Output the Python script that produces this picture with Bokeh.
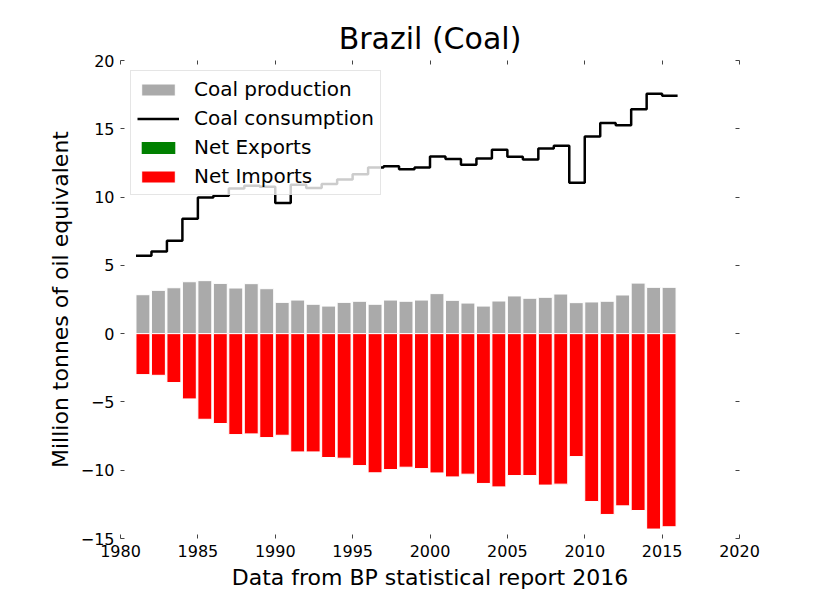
from bokeh.plotting import figure
from bokeh.models import (ColumnDataSource, Legend, LegendItem, LinearAxis,
                          FixedTicker, Range1d)
from bokeh.embed import file_html
from bokeh.resources import INLINE

# ---- data (Million tonnes of oil equivalent) ----
years = list(range(1981, 2016))
production = [2.85, 3.17, 3.36, 3.80, 3.88, 3.68, 3.34, 3.66, 3.29, 2.29,
              2.46, 2.15, 2.02, 2.29, 2.37, 2.15, 2.46, 2.37, 2.46, 2.93,
              2.44, 2.24, 2.02, 2.39, 2.76, 2.59, 2.66, 2.90, 2.27, 2.32,
              2.37, 2.83, 3.70, 3.39, 3.39]
consumption = [5.71, 6.02, 6.80, 8.41, 9.97, 10.10, 10.63, 10.83, 10.75, 9.56,
               10.90, 10.66, 10.95, 11.29, 11.68, 12.17, 12.26, 12.04, 12.17, 12.97,
               12.78, 12.36, 12.83, 13.46, 12.95, 12.75, 13.56, 13.75, 11.05, 14.43,
               15.43, 15.26, 16.43, 17.56, 17.41]
net_imports = [-3.00, -3.05, -3.58, -4.78, -6.27, -6.58, -7.39, -7.34, -7.61, -7.44,
               -8.66, -8.66, -9.07, -9.12, -9.66, -10.19, -9.95, -9.78, -9.88, -10.20,
               -10.49, -10.29, -10.97, -11.22, -10.39, -10.39, -11.09, -11.02, -9.00, -12.29,
               -13.24, -12.61, -12.95, -14.31, -14.14]
net_exports = [0.0, 0.0, 0.0, 0.0, 0.0, 0.0, 0.0, 0.0, 0.0, 0.0,
               0.0, 0.0, 0.0, 0.0, 0.0, 0.0, 0.0, 0.0, 0.0, 0.0,
               0.0, 0.0, 0.0, 0.0, 0.0, 0.0, 0.0, 0.0, 0.0, 0.0,
               0.0, 0.0, 0.0, 0.0, 0.0]

x_ticks = [1980, 1985, 1990, 1995, 2000, 2005, 2010, 2015, 2020]
y_ticks = [-15, -10, -5, 0, 5, 10, 15, 20]

BAR_W = 0.9
FONT = "DejaVu Sans"

bars = ColumnDataSource(dict(
    left=years,
    right=[y + BAR_W for y in years],
    prod=production,
    imp=net_imports,
    exp=net_exports,
    zero=[0] * len(years),
))
step_x = years + [years[-1] + 1]
step_y = consumption + [consumption[-1]]

p = figure(width=832, height=592, output_backend="svg", toolbar_location=None,
           frame_width=619, frame_height=478,
           min_border_left=120, min_border_top=60, min_border_right=90,
           min_border_bottom=54,
           x_range=Range1d(1980, 2020), y_range=Range1d(-15, 20),
           title="Brazil (Coal)")
p.outline_line_color = None
p.grid.visible = False
p.background_fill_color = "white"
p.border_fill_color = "white"

p.title.align = "center"
p.title.text_font = FONT
p.title.text_font_size = "30px"
p.title.text_font_style = "normal"
p.title.text_color = "black"

r_prod = p.quad(left="left", right="right", bottom="zero", top="prod", source=bars,
                fill_color="#aaaaaa", line_color="white", line_width=1)
r_imp = p.quad(left="left", right="right", bottom="imp", top="zero", source=bars,
               fill_color="#ff0000", line_color="white", line_width=1)
r_exp = p.quad(left="left", right="right", bottom="zero", top="exp", source=bars,
               fill_color="#008000", line_color=None)
r_cons = p.step(step_x, step_y, mode="after", line_color="black", line_width=2.5)

def style_axis(ax, show_labels):
    ax.axis_line_color = None
    ax.major_tick_in = 4
    ax.major_tick_out = 0
    ax.minor_tick_in = 0
    ax.minor_tick_out = 0
    ax.major_tick_line_color = "#444444"
    ax.major_tick_line_width = 1
    ax.major_label_text_font = FONT
    ax.major_label_text_font_size = "16px"
    ax.major_label_text_color = "black"
    ax.axis_label_text_font = FONT
    ax.axis_label_text_font_size = "22px"
    ax.axis_label_text_font_style = "normal"
    ax.axis_label_text_color = "black"
    if not show_labels:
        ax.major_label_text_color = None
        ax.major_label_text_font_size = "1px"
        ax.major_label_standoff = 0

p.xaxis.ticker = FixedTicker(ticks=x_ticks)
p.yaxis.ticker = FixedTicker(ticks=y_ticks)
p.yaxis.major_label_overrides = {v: str(v).replace("-", "\u2212") for v in y_ticks}
style_axis(p.xaxis[0], True)
style_axis(p.yaxis[0], True)
p.xaxis.axis_label = "Data from BP statistical report 2016"
p.yaxis.axis_label = "Million tonnes of oil equivalent"
p.xaxis.major_label_standoff = 6
p.yaxis.major_label_standoff = 6
p.yaxis.axis_label_standoff = 5
p.xaxis.axis_label_standoff = 5

top_ax = LinearAxis(ticker=FixedTicker(ticks=x_ticks))
right_ax = LinearAxis(ticker=FixedTicker(ticks=y_ticks))
style_axis(top_ax, False)
style_axis(right_ax, False)
p.add_layout(top_ax, "above")
p.add_layout(right_ax, "right")

legend = Legend(items=[
    LegendItem(label="Coal production", renderers=[r_prod]),
    LegendItem(label="Coal consumption", renderers=[r_cons]),
    LegendItem(label="Net Exports", renderers=[r_exp]),
    LegendItem(label="Net Imports", renderers=[r_imp]),
], location="top_left")
legend.margin = 10
legend.padding = 6
legend.spacing = 5
legend.glyph_width = 42
legend.glyph_height = 15
legend.label_height = 20
legend.label_standoff = 15
legend.label_text_font = FONT
legend.label_text_font_size = "20px"
legend.label_text_color = "black"
legend.border_line_color = "#cccccc"
legend.border_line_width = 1
legend.background_fill_color = "white"
legend.background_fill_alpha = 0.8
p.add_layout(legend, "center")

open("out.html", "w").write(file_html(p, INLINE))
